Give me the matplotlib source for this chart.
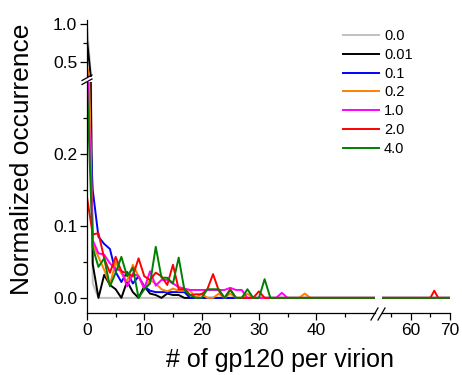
import matplotlib
matplotlib.use("Agg")
import matplotlib.pyplot as plt
from matplotlib.lines import Line2D
import numpy as np

plt.rcParams['font.family'] = ['Liberation Sans', 'DejaVu Sans']

# ---- data ----
n_gp120 = list(range(0, 71))
labels = ["0.0", "0.01", "0.1", "0.2", "1.0", "2.0", "4.0"]
colors = ["#c0c0c0", "#000000", "#0000ff", "#ff8000", "#ff00ff", "#ff0000", "#008000"]

occ_00 = [0.98, 0.02, 0.0]
occ_001 = [0.79, 0.047, 0.0, 0.032, 0.018, 0.012, 0.0, 0.023, 0.008, 0.0,
           0.016, 0.006, 0.004, 0.0, 0.006, 0.004, 0.004, 0.0]
occ_01 = [0.33, 0.15, 0.085, 0.075, 0.068, 0.036, 0.022, 0.036, 0.02, 0.03,
          0.016, 0.01, 0.008, 0.008, 0.008, 0.008, 0.008, 0.008, 0.0]
occ_02 = [0.45, 0.075, 0.057, 0.039, 0.018, 0.05, 0.034, 0.023, 0.046, 0.03,
          0.013, 0.025, 0.02, 0.012, 0.009, 0.013, 0.01, 0.01, 0.01, 0.0,
          0.006, 0.0, 0.0, 0.006, 0.0, 0.006, 0.0, 0.0, 0.006, 0.0,
          0.0, 0.0, 0.0, 0.0, 0.0, 0.0, 0.0, 0.0, 0.006, 0.0]
occ_10 = [0.35, 0.08, 0.062, 0.06, 0.048, 0.04, 0.038, 0.016, 0.034, 0.03,
          0.013, 0.037, 0.017, 0.025, 0.025, 0.02, 0.015, 0.013, 0.011, 0.011,
          0.011, 0.011, 0.011, 0.011, 0.011, 0.014, 0.011, 0.011, 0.0, 0.0,
          0.0, 0.0, 0.0, 0.0, 0.007, 0.0]
occ_20 = [0.14, 0.088, 0.09, 0.055, 0.035, 0.057, 0.037, 0.034, 0.03, 0.055,
          0.03, 0.025, 0.035, 0.03, 0.018, 0.046, 0.012, 0.012, 0.004, 0.005,
          0.005, 0.012, 0.033, 0.01, 0.0, 0.012, 0.0, 0.0, 0.0, 0.0,
          0.009, 0.0]
occ_40 = [0.30, 0.07, 0.043, 0.055, 0.016, 0.035, 0.057, 0.03, 0.042, 0.0,
          0.012, 0.02, 0.071, 0.028, 0.028, 0.02, 0.056, 0.011, 0.004, 0.0,
          0.0, 0.012, 0.012, 0.012, 0.0, 0.011, 0.0, 0.0, 0.012, 0.0,
          0.0, 0.026, 0.0]
# isolated value far out on the axis
red_tail_x = 66
red_tail_y = 0.01


def full(vals):
    out = vals + [0.0] * (len(n_gp120) - len(vals))
    return out


occ_20_full = full(occ_20)
occ_20_full[red_tail_x] = red_tail_y
series = [full(occ_00), full(occ_001), full(occ_01), full(occ_02),
          full(occ_10), occ_20_full, full(occ_40)]

# ---- layout ----
W, H = 462, 375
fig = plt.figure(figsize=(W / 100, H / 100), dpi=100)


def rect(x0, y0, x1, y1):
    return [x0 / W, 1 - y1 / H, (x1 - x0) / W, (y1 - y0) / H]


ax_lo = fig.add_axes(rect(87, 82, 375, 313))
ax_hi = fig.add_axes(rect(87, 20, 375, 77))
ax_r = fig.add_axes(rect(382, 82, 450, 313))

lw = 1.4
handles = []
for vals, c, lab in zip(series, colors, labels):
    for ax in (ax_lo, ax_hi, ax_r):
        l, = ax.plot(n_gp120, vals, color=c, lw=lw, label=lab)
    handles.append(l)

ax_lo.set_xlim(0, 50.26)
ax_hi.set_xlim(0, 50.26)
ax_r.set_xlim(52.7, 70)
ax_lo.set_ylim(-0.021, 0.30)
ax_r.set_ylim(-0.021, 0.30)
ax_hi.set_ylim(0.30, 1.053)

tick_fs = 12.5
spine_lw = 0.9
for ax in (ax_lo, ax_hi, ax_r):
    for s in ax.spines.values():
        s.set_linewidth(spine_lw)
    ax.spines['top'].set_visible(False)
    ax.spines['right'].set_visible(False)
    ax.tick_params(which='major', direction='out', length=5, width=spine_lw,
                   labelsize=tick_fs, pad=2)
    ax.tick_params(which='minor', direction='out', length=3, width=spine_lw)

# lower-left
ax_lo.set_xticks([0, 10, 20, 30, 40])
ax_lo.set_xticks([5, 15, 25, 35, 45], minor=True)
ax_lo.set_yticks([0.0, 0.1, 0.2])
ax_lo.set_yticklabels(["0.0", "0.1", "0.2"])
ax_lo.set_yticks([0.05, 0.15, 0.25], minor=True)

# upper
ax_hi.spines['bottom'].set_visible(False)
ax_hi.set_xticks([])
ax_hi.set_xticks([], minor=True)
ax_hi.set_yticks([0.5, 1.0])
ax_hi.set_yticklabels(["0.5", "1.0"])
ax_hi.set_yticks([0.75], minor=True)

# right
ax_r.spines['left'].set_visible(False)
ax_r.set_yticks([])
ax_r.set_yticks([], minor=True)
ax_r.set_xticks([60, 70])
ax_r.set_xticks([55, 65], minor=True)

for ax in (ax_lo, ax_hi, ax_r):
    ax.patch.set_visible(False)


def fpt(x, y):
    return (x / W, 1 - y / H)


def seg(p0, p1):
    a = fpt(*p0)
    b = fpt(*p1)
    fig.add_artist(Line2D([a[0], b[0]], [a[1], b[1]], color='black',
                          lw=0.9, transform=fig.transFigure))


# break marks on y axis
seg((82, 80.5), (92, 75.0))
seg((82, 84.5), (92, 79.0))
# break marks on x axis
seg((371, 320), (378, 308))
seg((378, 320), (385, 308))

# labels
fig.text(280 / W, 1 - 360 / H, '# of gp120 per virion', ha='center',
         va='center', fontsize=18)
fig.text(22 / W, 1 - 159 / H, 'Normalized occurrence', ha='center',
         va='center', rotation=90, fontsize=19)

fig.legend(handles, labels, loc='upper left',
           bbox_to_anchor=(343 / W, 1 - 29 / H), bbox_transform=fig.transFigure,
           frameon=False, borderpad=0, borderaxespad=0, handlelength=2.45,
           handletextpad=0.36, labelspacing=0.33, fontsize=10.5)

fig.savefig('out.png', dpi=100)
